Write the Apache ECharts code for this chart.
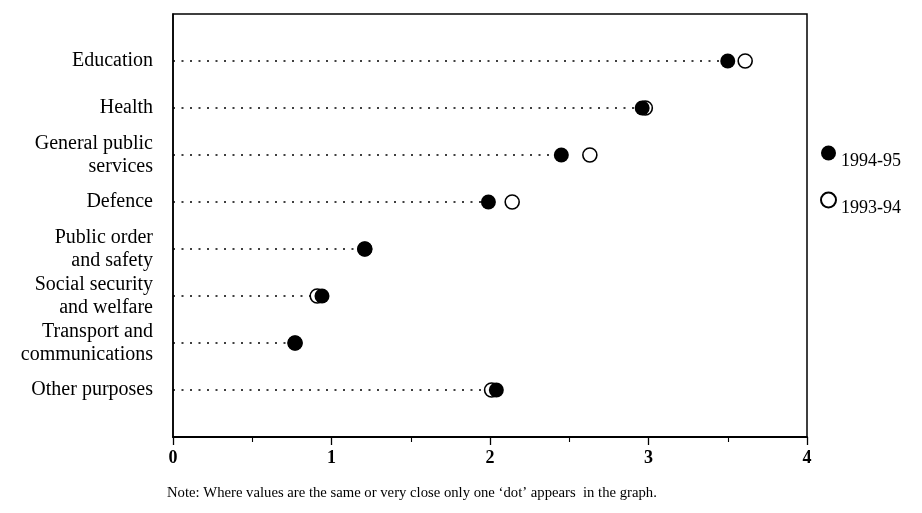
<!DOCTYPE html>
<html>
<head>
<meta charset="utf-8">
<script src="https://cdn.jsdelivr.net/npm/echarts@6/dist/echarts.min.js"></script>
<style>
html,body{margin:0;padding:0;background:#fff;}
#chart{width:922px;height:513px;}
</style>
</head>
<body>
<div id="chart"></div>
<script>
// Data
const categories = [
  "Education",
  "Health",
  "General public\nservices",
  "Defence",
  "Public order\nand safety",
  "Social security\nand welfare",
  "Transport and\ncommunications",
  "Other purposes"
];
const values9495 = [3.50, 2.96, 2.45, 1.99, 1.21, 0.94, 0.77, 2.04];
const values9394 = [3.61, 2.98, 2.63, 2.14, 1.21, 0.91, 0.77, 2.01];
const xTicks = [0, 1, 2, 3, 4];
const seriesNames = ["1994-95", "1993-94"];
const note = "Note: Where values are the same or very close only one \u2018dot\u2019 appears  in the graph.";

const FONT = "Liberation Serif";
const rows = categories.map((c, i) => i + 1);
const lineData = categories.map((c, i) => [Math.min(values9495[i], values9394[i]), i + 1]);

const chart = echarts.init(document.getElementById('chart'));
chart.setOption({
  animation: false,
  backgroundColor: '#fff',
  textStyle: { fontFamily: FONT, color: '#000' },
  grid: { left: 173, right: 115, top: 14, bottom: 76, show: true, borderColor: '#000', borderWidth: 1.5, containLabel: false },
  xAxis: {
    type: 'value', min: xTicks[0], max: xTicks[xTicks.length - 1], interval: 1,
    axisLine: { show: true, onZero: false, lineStyle: { color: '#000', width: 1.8 } },
    axisTick: { show: true, length: 8, lineStyle: { color: '#000', width: 1.3 } },
    minorTick: { show: true, splitNumber: 2, length: 5, lineStyle: { color: '#000', width: 1.1 } },
    splitLine: { show: false },
    axisLabel: { fontFamily: FONT, fontSize: 18, fontWeight: 'bold', color: '#000', margin: 12 }
  },
  yAxis: {
    type: 'value', min: 0, max: categories.length + 1, interval: 1, inverse: true,
    axisLine: { show: true, onZero: false, lineStyle: { color: '#000', width: 1.5 } },
    axisTick: { show: false },
    splitLine: { show: false },
    axisLabel: {
      fontFamily: FONT, fontSize: 20, color: '#000', margin: 20, lineHeight: 23, align: 'right',
      formatter: v => (v >= 1 && v <= categories.length) ? categories[v - 1] : ''
    }
  },
  legend: {
    orient: 'vertical', left: 815, top: 131, itemWidth: 15, itemHeight: 15, itemGap: 13,
    icon: 'circle',
    formatter: name => '\n' + name,
    textStyle: { fontFamily: FONT, fontSize: 18, color: '#000', lineHeight: 16 },
    data: seriesNames
  },
  series: [
    {
      type: 'custom', silent: true, z: 1,
      data: lineData,
      renderItem: (params, api) => {
        const y = api.value(1);
        const p0 = api.coord([0, y]);
        const p1 = api.coord([api.value(0), y]);
        return { type: 'line', shape: { x1: p0[0], y1: p0[1], x2: p1[0], y2: p1[1] },
          style: { stroke: '#000', lineWidth: 1.5, lineDash: [2, 6.5] } };
      }
    },
    {
      name: seriesNames[1], type: 'scatter', z: 2, symbol: 'circle', symbolSize: 14,
      itemStyle: { color: '#fff', borderColor: '#000', borderWidth: 1.6, opacity: 1 },
      data: values9394.map((v, i) => [v, rows[i]])
    },
    {
      name: seriesNames[0], type: 'scatter', z: 3, symbol: 'circle', symbolSize: 15,
      itemStyle: { color: '#000', opacity: 1 },
      data: values9495.map((v, i) => [v, rows[i]])
    }
  ],
  graphic: [
    { type: 'text', left: 167, top: 486, style: { text: note, fontFamily: FONT, fontSize: 14.7, fill: '#000' } }
  ]
});
</script>
</body>
</html>
